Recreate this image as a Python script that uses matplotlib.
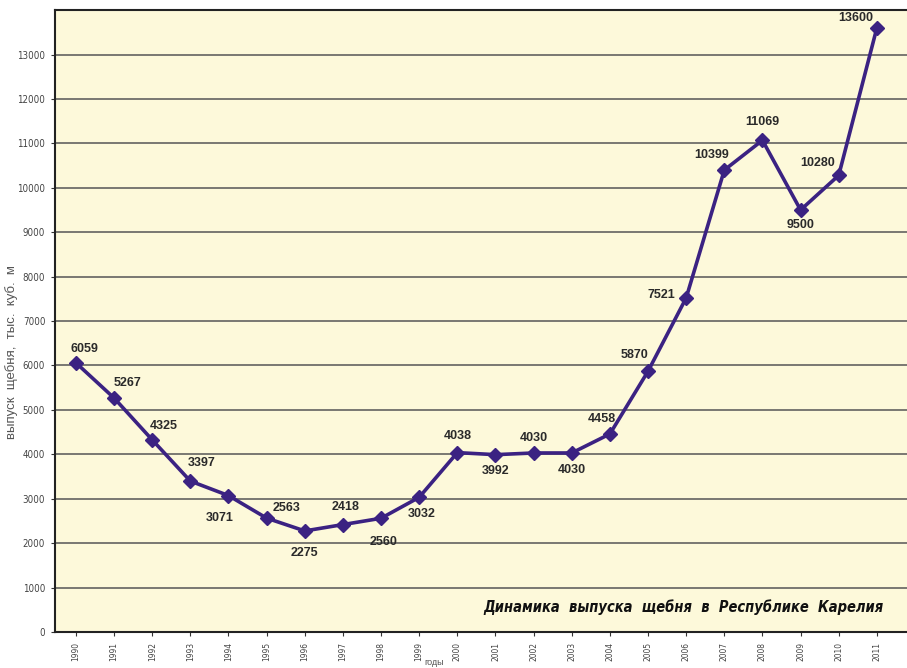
import matplotlib
matplotlib.use("Agg")
import matplotlib.pyplot as plt

years = [str(y) for y in range(1990, 2012)]
values = [6059, 5267, 4325, 3397, 3071, 2563, 2275, 2418, 2560, 3032, 4038,
          3992, 4030, 4030, 4458, 5870, 7521, 10399, 11069, 9500, 10280, 13600]
# label offsets in points (dx, dy)
offsets = [(6, 10), (10, 11), (8, 10), (8, 13), (-6, -16), (14, 7), (0, -16),
           (2, 13), (2, -17), (2, -12), (0, 12), (0, -12), (0, 11), (0, -12),
           (-6, 11), (-10, 12), (-18, 2), (-9, 11), (0, 13), (0, -11),
           (-15, 9), (-15, 7)]
yticks = list(range(0, 14000, 1000))

fig = plt.figure(figsize=(9.07, 6.68), dpi=100)
ax = fig.add_axes([0.0606, 0.0539, 0.9394, 0.931])
ax.set_facecolor("#fdf9da")

x = list(range(len(years)))
ax.plot(x, values, color="#3b2282", lw=2.6, marker="D", ms=7.5,
        markerfacecolor="#3b2282", markeredgecolor="#3b2282", zorder=3)

for xi, v, (dx, dy) in zip(x, values, offsets):
    ax.annotate(str(v), (xi, v), xytext=(dx, dy), textcoords="offset points",
                ha="center", va="center", fontsize=9, fontweight="bold",
                color="#2a2a2a", family="Liberation Sans", zorder=4)

ax.set_xlim(-0.55, 21.79)
ax.set_ylim(0, 14000)
ax.set_yticks(yticks)
ax.set_yticklabels([str(t) for t in yticks], fontsize=7, color="#444444",
                   family="DejaVu Sans", fontstretch="condensed")
ax.set_xticks(x)
ax.set_xticklabels(years, rotation=90, fontsize=6, color="#444444",
                   family="DejaVu Sans", fontstretch="condensed")
ax.yaxis.grid(True, color="#555555", lw=1.1)
ax.set_axisbelow(True)
ax.spines["right"].set_visible(False)
for s in ("left", "bottom", "top"):
    ax.spines[s].set_color("#222222")
    ax.spines[s].set_linewidth(1.5)
ax.tick_params(axis="both", length=3, width=0.8, color="#333333", pad=4)

ax.set_ylabel("выпуск  щебня,  тыс.  куб.  м", fontsize=9.5, color="#555555",
              family="Liberation Sans")
ax.yaxis.set_label_coords(-0.043, 0.45)
ax.set_xlabel("годы", fontsize=6.5, color="#555555", family="Liberation Sans",
              va="bottom")
ax.xaxis.set_label_coords(0.445, -0.056)

ax.text(0.972, 0.04, "Динамика  выпуска  щебня  в  Республике  Карелия",
        transform=ax.transAxes, ha="right", va="center", fontsize=10.5,
        fontweight="bold", fontstyle="italic", color="#111111",
        family="DejaVu Sans", fontstretch="condensed")

fig.savefig("out.png", dpi=100)
